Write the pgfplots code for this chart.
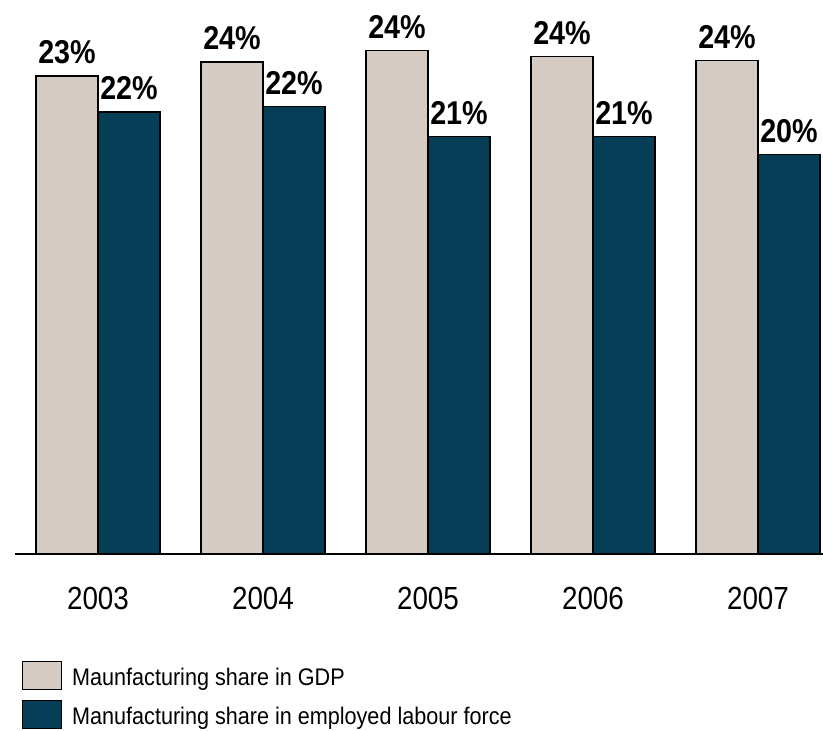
\documentclass[border=0pt]{standalone}
\usepackage{pgfplots}
\pgfplotsset{compat=1.18}
\usepackage{fontspec}
\setmainfont{Liberation Sans}
\newfontfamily\narrow{Liberation Sans}[FakeStretch=0.87]
\newfontfamily\legfont{Liberation Sans}[FakeStretch=0.9]
\definecolor{gdpc}{HTML}{D5CBC2}
\definecolor{labc}{HTML}{053E56}
\begin{document}
\begin{tikzpicture}
\useasboundingbox (0,0) rectangle (823pt,731pt);
\begin{axis}[
  at={(15pt,177pt)}, anchor=south west,
  scale only axis, width=808pt, height=554pt,
  xmin=-0.503, xmax=4.394, ymin=4, ymax=26.16,
  axis x line*=bottom, axis y line=none,
  axis line style={-, line width=1.5pt, black},
  xtick={0,1,2,3,4},
  xticklabels={2003,2004,2005,2006,2007},
  major tick length=0pt,
  xticklabel style={font=\narrow\fontsize{32}{32}\selectfont, anchor=base, inner sep=0pt, yshift=-56pt},
  ybar=0pt, bar width=62pt,
  clip=false,
  nodes near coords={\pgfmathprintnumber[fixed,precision=0,assume math mode=true]{\pgfplotspointmeta}\%},
  every node near coord/.append style={anchor=base, inner sep=0pt, yshift=12pt, font=\narrow\bfseries\fontsize{33}{33}\selectfont, text=black},
  legend image code/.code={\draw[#1, line width=1.2pt] (0pt,-4pt) rectangle (39pt,24pt);},
  legend style={at={(axis description cs:0.00866,-0.193)}, anchor=north west, draw=none, fill=none, inner sep=0pt, outer sep=0pt, font=\legfont\fontsize{24}{24}\selectfont, nodes={inner sep=0pt, anchor=base west}, column sep=10pt, row sep=10pt},
  legend cell align=left,
]
\addplot[fill=gdpc, draw=black, line width=1.2pt] coordinates {(0,23.12) (1,23.68) (2,24.13) (3,23.89) (4,23.75)};
\addplot[fill=labc, draw=black, line width=1.2pt] coordinates {(0,21.68) (1,21.91) (2,20.71) (3,20.71) (4,19.99)};
\legend{Maunfacturing share in GDP, Manufacturing share in employed labour force}
\end{axis}
\end{tikzpicture}
\end{document}
